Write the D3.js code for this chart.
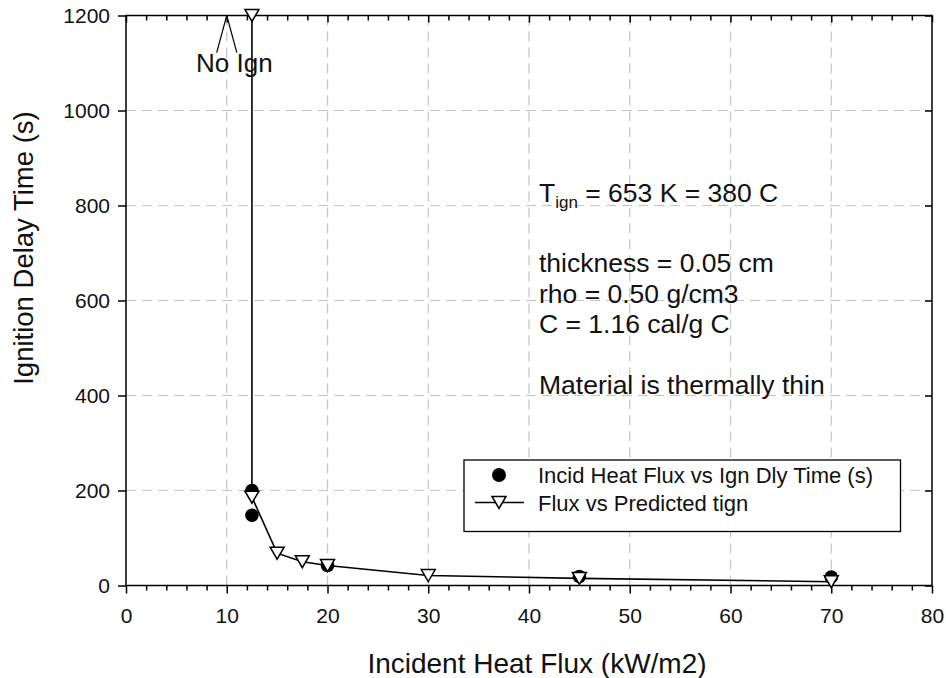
<!DOCTYPE html>
<html>
<head>
<meta charset="utf-8">
<script src="https://cdn.jsdelivr.net/npm/d3@7"></script>
<style>
  html, body { margin: 0; padding: 0; background: #fff; }
  svg { display: block; font-family: "Liberation Sans", Arial, sans-serif; }
</style>
</head>
<body>
<svg id="chart" width="946" height="678"></svg>
<script>
// ---------- data ----------
const measuredFlux  = [12.5, 12.5, 20, 45, 70];
const measuredTime  = [200, 148, 42, 19, 18];

const predictedFlux = [12.5, 12.5, 15, 17.5, 20, 30, 45, 70];
const predictedTime = [1200, 186, 68, 50, 42, 21, 15, 8];

const xMajorTicks = [0, 10, 20, 30, 40, 50, 60, 70, 80];
const xMinorTicks = d3.range(0, 81, 2).filter(v => v % 10 !== 0);
const yMajorTicks = [0, 200, 400, 600, 800, 1000, 1200];
const xGrid = [10, 20, 30, 40, 50, 60, 70];
const yGrid = [200, 400, 600, 800, 1000];

const legendLabels = ["Incid Heat Flux vs Ign Dly Time (s)", "Flux vs Predicted tign"];
const noteLines = ["thickness = 0.05 cm", "rho = 0.50 g/cm3", "C = 1.16 cal/g C", "", "Material is thermally thin"];
const noIgnAnchor = { x: 10, y: 1200, x1: 9, x2: 11, yEnd: 1122 };

// ---------- layout ----------
const svg = d3.select("#chart");
const x = d3.scaleLinear().domain([0, 80]).range([126, 932]);
const y = d3.scaleLinear().domain([0, 1200]).range([585.5, 15.5]);
const X0 = x(0), X1 = x(80), Y0 = y(0), Y1 = y(1200);
const FONT = '"Liberation Sans", Arial, sans-serif';

// grid
const grid = svg.append("g").attr("stroke", "#c4c4c4").attr("stroke-width", 1.2)
  .attr("stroke-dasharray", "10,6");
grid.selectAll("line.gx").data(xGrid).join("line")
  .attr("x1", d => x(d)).attr("x2", d => x(d)).attr("y1", Y0).attr("y2", Y1);
grid.selectAll("line.gy").data(yGrid).join("line")
  .attr("y1", d => y(d)).attr("y2", d => y(d)).attr("x1", X0).attr("x2", X1);

// axes
function styleAxis(g) {
  g.select(".domain").remove();
  g.selectAll(".tick line").attr("stroke", "#000").attr("stroke-width", 1.5);
  g.selectAll(".tick text").attr("font-family", FONT).attr("font-size", 21).attr("fill", "#111");
}
svg.append("g").attr("transform", `translate(0,${Y0})`)
  .call(d3.axisBottom(x).tickValues(xMajorTicks).tickSize(8).tickPadding(15).tickFormat(d3.format("d")))
  .call(styleAxis);
svg.append("g").attr("transform", `translate(0,${Y0})`)
  .call(d3.axisBottom(x).tickValues(xMinorTicks).tickSize(5).tickFormat(""))
  .call(styleAxis);
svg.append("g").attr("transform", `translate(0,${Y1})`)
  .call(d3.axisTop(x).tickValues(xMajorTicks).tickSize(-7).tickFormat(""))
  .call(styleAxis);
svg.append("g").attr("transform", `translate(0,${Y1})`)
  .call(d3.axisTop(x).tickValues(xMinorTicks).tickSize(-5).tickFormat(""))
  .call(styleAxis);
svg.append("g").attr("transform", `translate(${X0},0)`)
  .call(d3.axisLeft(y).tickValues(yMajorTicks).tickSize(8).tickPadding(8).tickFormat(d3.format("d")))
  .call(styleAxis);
svg.append("g").attr("transform", `translate(${X1},0)`)
  .call(d3.axisRight(y).tickValues(yMajorTicks).tickSize(-7).tickFormat(""))
  .call(styleAxis);

// frame
svg.append("rect").attr("x", X0).attr("y", Y1).attr("width", X1 - X0).attr("height", Y0 - Y1)
  .attr("fill", "none").attr("stroke", "#000").attr("stroke-width", 1.5);

// axis titles
svg.append("text").attr("x", 537).attr("y", 673).attr("text-anchor", "middle")
  .attr("font-family", FONT).attr("font-size", 28).attr("fill", "#111")
  .text("Incident Heat Flux (kW/m2)");
svg.append("text").attr("transform", `translate(33,248) rotate(-90)`)
  .attr("text-anchor", "middle").attr("font-family", FONT).attr("font-size", 27.5).attr("fill", "#111")
  .text("Ignition Delay Time (s)");

// predicted line
const predicted = predictedFlux.map((f, i) => ({ f, t: predictedTime[i] }));
const measured = measuredFlux.map((f, i) => ({ f, t: measuredTime[i] }));
svg.append("path").datum(predicted)
  .attr("d", d3.line().x(d => x(d.f)).y(d => y(d.t)))
  .attr("fill", "none").attr("stroke", "#000").attr("stroke-width", 1.6);

// measured circles
svg.selectAll("circle.meas").data(measured).join("circle")
  .attr("cx", d => x(d.f)).attr("cy", d => y(d.t)).attr("r", 6.8).attr("fill", "#000");

// predicted triangles
const triPath = "M-7,-6L7,-6L0,6Z";
svg.selectAll("path.tri").data(predicted).join("path")
  .attr("transform", d => `translate(${x(d.f)},${y(d.t)})`)
  .attr("d", triPath).attr("fill", "#fff").attr("stroke", "#000").attr("stroke-width", 1.5);

// No Ign annotation
svg.append("line").attr("x1", x(noIgnAnchor.x)).attr("y1", y(noIgnAnchor.y))
  .attr("x2", x(noIgnAnchor.x1)).attr("y2", y(noIgnAnchor.yEnd)).attr("stroke", "#000").attr("stroke-width", 1.2);
svg.append("line").attr("x1", x(noIgnAnchor.x)).attr("y1", y(noIgnAnchor.y))
  .attr("x2", x(noIgnAnchor.x2)).attr("y2", y(noIgnAnchor.yEnd)).attr("stroke", "#000").attr("stroke-width", 1.2);
svg.append("text").attr("x", 196).attr("y", 72).attr("font-family", FONT).attr("font-size", 26)
  .attr("fill", "#111").text("No Ign");

// notes
const tLine = svg.append("text").attr("x", 539).attr("y", 202).attr("font-family", FONT)
  .attr("font-size", 26.5).attr("fill", "#111");
tLine.append("tspan").text("T");
tLine.append("tspan").attr("font-size", 17).attr("dy", 6).text("ign");
tLine.append("tspan").attr("dy", -6).text(" = 653 K = 380 C");

svg.append("g").selectAll("text").data(noteLines).join("text")
  .attr("x", 539).attr("y", (d, i) => 272 + i * 30.5)
  .attr("font-family", FONT).attr("font-size", 26.5).attr("fill", "#111").text(d => d);

// legend
const lg = svg.append("g");
lg.append("rect").attr("x", 464).attr("y", 460).attr("width", 436.5).attr("height", 71.5)
  .attr("fill", "#fff").attr("stroke", "#000").attr("stroke-width", 1.3);
lg.append("circle").attr("cx", 499).attr("cy", 475).attr("r", 7).attr("fill", "#000");
lg.append("line").attr("x1", 475).attr("x2", 524).attr("y1", 502.5).attr("y2", 502.5)
  .attr("stroke", "#000").attr("stroke-width", 1.6);
lg.append("path").attr("transform", "translate(499,502.5)").attr("d", triPath)
  .attr("fill", "#fff").attr("stroke", "#000").attr("stroke-width", 1.5);
lg.selectAll("text").data(legendLabels).join("text")
  .attr("x", 538).attr("y", (d, i) => 483 + i * 27.5)
  .attr("font-family", FONT).attr("font-size", 22).attr("fill", "#111").text(d => d);
</script>
</body>
</html>
